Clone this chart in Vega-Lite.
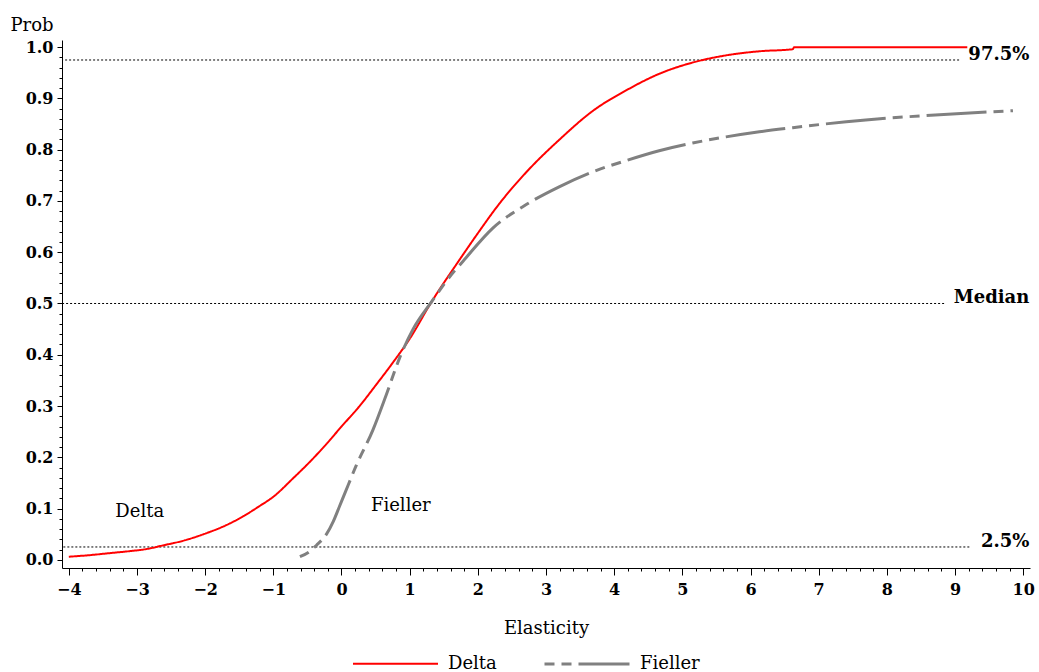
{
  "$schema": "https://vega.github.io/schema/vega-lite/v6.json",
  "autosize": {"type": "none"},
  "padding": {"left": 62, "top": 40, "right": 9, "bottom": 104},
  "width": 968,
  "height": 528,
  "config": {
    "font": "DejaVu Serif",
    "view": {"stroke": null},
    "axis": {"grid": false, "domainColor": "#000", "tickColor": "#000", "labelColor": "#000", "titleColor": "#000", "labelFont": "DejaVu Serif", "titleFont": "DejaVu Serif"}
  },
  "datasets": {
    "curves": [
      {"series": "Delta", "x": -4.0, "y": 0.006},
      {"series": "Delta", "x": -3.7, "y": 0.009},
      {"series": "Delta", "x": -3.4, "y": 0.013},
      {"series": "Delta", "x": -3.1, "y": 0.017},
      {"series": "Delta", "x": -2.86, "y": 0.021},
      {"series": "Delta", "x": -2.62, "y": 0.028},
      {"series": "Delta", "x": -2.3, "y": 0.038},
      {"series": "Delta", "x": -1.98, "y": 0.052},
      {"series": "Delta", "x": -1.7, "y": 0.067},
      {"series": "Delta", "x": -1.44, "y": 0.085},
      {"series": "Delta", "x": -1.2, "y": 0.105},
      {"series": "Delta", "x": -1.0, "y": 0.123},
      {"series": "Delta", "x": -0.71, "y": 0.159},
      {"series": "Delta", "x": -0.45, "y": 0.193},
      {"series": "Delta", "x": -0.22, "y": 0.226},
      {"series": "Delta", "x": 0.0, "y": 0.26},
      {"series": "Delta", "x": 0.26, "y": 0.299},
      {"series": "Delta", "x": 0.5, "y": 0.34},
      {"series": "Delta", "x": 0.75, "y": 0.384},
      {"series": "Delta", "x": 1.0, "y": 0.431},
      {"series": "Delta", "x": 1.32, "y": 0.503},
      {"series": "Delta", "x": 1.73, "y": 0.585},
      {"series": "Delta", "x": 2.0, "y": 0.637},
      {"series": "Delta", "x": 2.3, "y": 0.692},
      {"series": "Delta", "x": 2.71, "y": 0.756},
      {"series": "Delta", "x": 3.2, "y": 0.82},
      {"series": "Delta", "x": 3.69, "y": 0.876},
      {"series": "Delta", "x": 4.18, "y": 0.916},
      {"series": "Delta", "x": 4.66, "y": 0.948},
      {"series": "Delta", "x": 5.15, "y": 0.97},
      {"series": "Delta", "x": 5.64, "y": 0.984},
      {"series": "Delta", "x": 6.13, "y": 0.992},
      {"series": "Delta", "x": 6.62, "y": 0.996},
      {"series": "Delta", "x": 6.64, "y": 1.0},
      {"series": "Delta", "x": 9.18, "y": 1.0},
      {"series": "Fieller", "x": -0.61, "y": 0.006},
      {"series": "Fieller", "x": -0.45, "y": 0.018},
      {"series": "Fieller", "x": -0.37, "y": 0.028},
      {"series": "Fieller", "x": -0.22, "y": 0.05},
      {"series": "Fieller", "x": -0.12, "y": 0.075},
      {"series": "Fieller", "x": -0.03, "y": 0.104},
      {"series": "Fieller", "x": 0.05, "y": 0.13},
      {"series": "Fieller", "x": 0.22, "y": 0.185},
      {"series": "Fieller", "x": 0.46, "y": 0.253},
      {"series": "Fieller", "x": 0.66, "y": 0.323},
      {"series": "Fieller", "x": 0.85, "y": 0.393},
      {"series": "Fieller", "x": 1.05, "y": 0.45},
      {"series": "Fieller", "x": 1.32, "y": 0.503},
      {"series": "Fieller", "x": 1.61, "y": 0.556},
      {"series": "Fieller", "x": 1.78, "y": 0.582},
      {"series": "Fieller", "x": 2.22, "y": 0.647},
      {"series": "Fieller", "x": 2.71, "y": 0.693},
      {"series": "Fieller", "x": 3.2, "y": 0.728},
      {"series": "Fieller", "x": 3.69, "y": 0.757},
      {"series": "Fieller", "x": 4.18, "y": 0.779},
      {"series": "Fieller", "x": 4.66, "y": 0.798},
      {"series": "Fieller", "x": 5.15, "y": 0.813},
      {"series": "Fieller", "x": 5.64, "y": 0.825},
      {"series": "Fieller", "x": 6.13, "y": 0.835},
      {"series": "Fieller", "x": 6.62, "y": 0.843},
      {"series": "Fieller", "x": 7.01, "y": 0.849},
      {"series": "Fieller", "x": 7.69, "y": 0.858},
      {"series": "Fieller", "x": 8.5, "y": 0.866},
      {"series": "Fieller", "x": 9.4, "y": 0.873},
      {"series": "Fieller", "x": 9.85, "y": 0.876}
    ],
    "refs": [
      {"label": "97.5%", "y": 0.975, "xend": 9.06},
      {"label": "Median", "y": 0.5, "xend": 8.84},
      {"label": "2.5%", "y": 0.025, "xend": 9.21}
    ],
    "notes": [
      {"label": "Delta", "x": -2.96, "y": 0.094},
      {"label": "Fieller", "x": 0.87, "y": 0.105}
    ]
  },
  "layer": [
    {
      "data": {"name": "refs"},
      "mark": {"type": "rule", "color": "#000", "strokeWidth": 1, "strokeDash": [2, 2]},
      "encoding": {
        "x": {"field": "xend", "type": "quantitative", "scale": {"domain": [-4.1, 10.1], "nice": false, "zero": false},
          "axis": {
            "title": "Elasticity", "titleFontSize": 18, "titleFontWeight": "normal", "titlePadding": 22,
            "tickCount": 1000,
            "values": [-4,-3.8,-3.6,-3.4,-3.2,-3,-2.8,-2.6,-2.4,-2.2,-2,-1.8,-1.6,-1.4,-1.2,-1,-0.8,-0.6,-0.4,-0.2,0,0.2,0.4,0.6,0.8,1,1.2,1.4,1.6,1.8,2,2.2,2.4,2.6,2.8,3,3.2,3.4,3.6,3.8,4,4.2,4.4,4.6,4.8,5,5.2,5.4,5.6,5.8,6,6.2,6.4,6.6,6.8,7,7.2,7.4,7.6,7.8,8,8.2,8.4,8.6,8.8,9,9.2,9.4,9.6,9.8,10],
            "labelExpr": "abs(datum.value - round(datum.value)) < 0.001 ? format(datum.value, 'd') : ''",
            "labelFontSize": 16, "labelFontWeight": "bold", "labelPadding": 6, "labelFlush": false, "labelOverlap": false,
            "tickSize": {"condition": {"test": "abs(datum.value - round(datum.value)) < 0.001", "value": 7}, "value": 3},
            "domainWidth": 1, "tickWidth": 1
          }
        },
        "x2": {"datum": -4.1},
        "y": {"field": "y", "type": "quantitative", "scale": {"domain": [-0.016, 1.014], "nice": false, "zero": false},
          "axis": {
            "title": "Prob", "titleAngle": 0, "titleX": -52, "titleY": -10, "titleAlign": "left", "titleBaseline": "alphabetic",
            "titleFontSize": 18, "titleFontWeight": "normal",
            "tickCount": 1000,
            "values": [0,0.02,0.04,0.06,0.08,0.1,0.12,0.14,0.16,0.18,0.2,0.22,0.24,0.26,0.28,0.3,0.32,0.34,0.36,0.38,0.4,0.42,0.44,0.46,0.48,0.5,0.52,0.54,0.56,0.58,0.6,0.62,0.64,0.66,0.68,0.7,0.72,0.74,0.76,0.78,0.8,0.82,0.84,0.86,0.88,0.9,0.92,0.94,0.96,0.98,1.0],
            "labelExpr": "abs(datum.value*10 - round(datum.value*10)) < 0.001 ? format(datum.value, '.1f') : ''",
            "labelFontSize": 16, "labelFontWeight": "bold", "labelPadding": 4, "labelFlush": false, "labelOverlap": false,
            "tickSize": {"condition": {"test": "abs(datum.value*10 - round(datum.value*10)) < 0.001", "value": 5}, "value": 3},
            "domainWidth": 1, "tickWidth": 1
          }
        }
      }
    },
    {
      "data": {"name": "refs"},
      "mark": {"type": "text", "align": "right", "baseline": "middle", "dy": -5, "fontSize": 18, "fontWeight": "bold", "color": "#000"},
      "encoding": {
        "x": {"datum": 10.09, "type": "quantitative"},
        "y": {"field": "y", "type": "quantitative"},
        "text": {"field": "label"}
      }
    },
    {
      "data": {"name": "curves"},
      "mark": {"type": "line", "interpolate": "monotone"},
      "encoding": {
        "x": {"field": "x", "type": "quantitative"},
        "y": {"field": "y", "type": "quantitative"},
        "color": {"field": "series", "type": "nominal", "scale": {"domain": ["Delta", "Fieller"], "range": ["#ff0000", "#808080"]},
          "legend": {"title": null, "orient": "none", "legendX": 290, "legendY": 580, "direction": "horizontal",
            "symbolType": "stroke", "symbolSize": 7225, "symbolStrokeWidth": 3, "labelFontSize": 18, "labelFont": "DejaVu Serif",
            "labelColor": "#000", "labelOffset": 9, "columnPadding": 41}},
        "strokeDash": {"field": "series", "type": "nominal", "scale": {"domain": ["Delta", "Fieller"], "range": [[1, 0], [10, 7, 10, 7, 60, 7]]}},
        "strokeWidth": {"field": "series", "type": "nominal", "scale": {"domain": ["Delta", "Fieller"], "range": [2, 3]}, "legend": null}
      }
    },
    {
      "data": {"name": "notes"},
      "mark": {"type": "text", "align": "center", "baseline": "middle", "fontSize": 18, "color": "#000"},
      "encoding": {
        "x": {"field": "x", "type": "quantitative"},
        "y": {"field": "y", "type": "quantitative"},
        "text": {"field": "label"}
      }
    }
  ]
}
